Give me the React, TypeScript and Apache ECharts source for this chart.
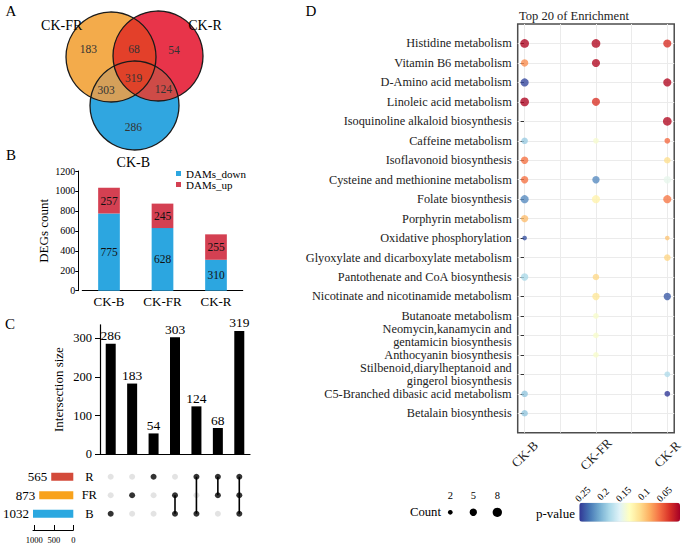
import React, { useEffect, useRef } from "react";
import * as echarts from "echarts";

const FONT = "'Liberation Serif', 'Times New Roman', serif";

// ---------------- Panel A / C data ----------------
const upsetRows = ["B", "FR", "R"]; // bottom -> top
const intersectionMembers = [["B"], ["FR"], ["R"], ["FR", "B"], ["R", "B"], ["R", "FR"], ["R", "FR", "B"]];
const intersectionSizes = [286, 183, 54, 303, 124, 68, 319];
const setDisplayNames: Record<string, string> = { B: "CK-B", FR: "CK-FR", R: "CK-R" };

// ---------------- Panel B data ----------------
const groups = ["CK-B", "CK-FR", "CK-R"];
const damsDown = [775, 628, 310];
const damsUp = [257, 245, 255];

// ---------------- Panel D data ----------------
const samples = ["CK-B", "CK-FR", "CK-R"];
const pathways = [
  "Histidine metabolism",
  "Vitamin B6 metabolism",
  "D-Amino acid metabolism",
  "Linoleic acid metabolism",
  "Isoquinoline alkaloid biosynthesis",
  "Caffeine metabolism",
  "Isoflavonoid biosynthesis",
  "Cysteine and methionine metabolism",
  "Folate biosynthesis",
  "Porphyrin metabolism",
  "Oxidative phosphorylation",
  "Glyoxylate and dicarboxylate metabolism",
  "Pantothenate and CoA biosynthesis",
  "Nicotinate and nicotinamide metabolism",
  "Butanoate metabolism",
  "Neomycin,kanamycin and\ngentamicin biosynthesis",
  "Anthocyanin biosynthesis",
  "Stilbenoid,diarylheptanoid and\ngingerol biosynthesis",
  "C5-Branched dibasic acid metabolism",
  "Betalain biosynthesis",
];
const countB = [7, 5, 6, 7, null, 4, 5, 5, 6, 5, 2, null, 5, null, null, null, null, null, 4, 4];
const pB = [0.016, 0.073, 0.25, 0.016, null, 0.191, 0.063, 0.063, 0.223, 0.093, 0.246, null, 0.184, null, null, null, null, null, 0.194, 0.194];
const countFR = [7, 6, null, 6, null, 3, null, 5, 6, null, null, null, 4, 5, 3, 3, 3, null, null, null];
const pFR = [0.018, 0.018, null, 0.038, null, 0.142, null, 0.223, 0.125, null, null, null, 0.107, 0.115, 0.14, 0.14, 0.14, null, null, null];
const countR = [6, null, 6, null, 7, 3, 4, 5, 6, null, 2, 4, null, 5, null, null, null, 3, 3, null];
const pR = [0.036, null, 0.018, null, 0.018, 0.06, 0.11, 0.154, 0.065, null, 0.097, 0.105, null, 0.243, null, null, null, 0.181, 0.256, null];
const countLegend = [2, 5, 8];
const pTicks = [0.25, 0.2, 0.15, 0.1, 0.05];
const P_MIN = 0.011;
const P_MAX = 0.258;

// ---------------- Styling / layout ----------------
const RdYlBu = ["#a50026", "#d73027", "#f46d43", "#fdae61", "#fee090", "#ffffbf", "#e0f3f8", "#abd9e9", "#74add1", "#4575b4", "#313695"];
const sizeOf = (c: number) => 3.3 * Math.sqrt(c);
const setColors: Record<string, string> = { B: "#2BA8E0", FR: "#F8A21C", R: "#D34A3A" };

const vennLayout = [
  { key: "FR", cx: 111, cy: 57, r: 45, color: "#F3AB4B", lx: 61.7, ly: 25 },
  { key: "R", cx: 158, cy: 56, r: 45, color: "#E8344A", lx: 205, ly: 25 },
  { key: "B", cx: 134.5, cy: 105.5, r: 44.5, color: "#30A6E0", lx: 133.3, ly: 162 },
];
const overlapColors: Record<string, string> = {
  "FR|R": "#E3402A",
  "B|FR": "#D5A05A",
  "B|R": "#CE4B47",
  "B|FR|R": "#DF4229",
};
const vennLabelPos: Record<string, [number, number]> = {
  B: [133.3, 126.7],
  FR: [88.3, 49.3],
  R: [174, 50],
  "B|FR": [106, 90],
  "B|R": [163.3, 89.3],
  "FR|R": [134, 49.3],
  "B|FR|R": [133.5, 78.3],
};

function txt(text: string, x: number, y: number, size: number, extra: any = {}) {
  const align = extra.align || "center";
  return {
    type: "text",
    x,
    y,
    z: 30,
    rotation: extra.rotation || 0,
    style: {
      text,
      font: `${size}px ${FONT}`,
      fontSize: size,
      fontFamily: FONT,
      fill: extra.fill || "#000",
      align,
      textAlign: align,
      verticalAlign: "middle",
      textVerticalAlign: "middle",
    },
  };
}

function regionPolygon(cs: { cx: number; cy: number; r: number }[]) {
  const pts: number[][] = [];
  cs.forEach((c, i) => {
    const N = 720;
    for (let k = 0; k < N; k++) {
      const a = (k / N) * Math.PI * 2;
      const x = c.cx + c.r * Math.cos(a);
      const y = c.cy + c.r * Math.sin(a);
      const ok = cs.every((o, j) => j === i || (x - o.cx) ** 2 + (y - o.cy) ** 2 <= o.r * o.r + 1e-6);
      if (ok) pts.push([x, y]);
    }
  });
  const mx = pts.reduce((s, p) => s + p[0], 0) / pts.length;
  const my = pts.reduce((s, p) => s + p[1], 0) / pts.length;
  pts.sort((a, b) => Math.atan2(a[1] - my, a[0] - mx) - Math.atan2(b[1] - my, b[0] - mx));
  return pts;
}

function buildGraphics() {
  const els: any[] = [];
  vennLayout.forEach((c) =>
    els.push({ type: "circle", z: 10, shape: { cx: c.cx, cy: c.cy, r: c.r }, style: { fill: c.color } })
  );
  Object.keys(overlapColors).forEach((key) => {
    const cs = key.split("|").map((k) => vennLayout.find((c) => c.key === k)!);
    els.push({
      type: "polygon",
      z: cs.length === 3 ? 12 : 11,
      shape: { points: regionPolygon(cs) },
      style: { fill: overlapColors[key] },
    });
  });
  vennLayout.forEach((c) =>
    els.push({
      type: "circle",
      z: 13,
      shape: { cx: c.cx, cy: c.cy, r: c.r },
      style: { fill: "none", stroke: "#1a1a1a", lineWidth: 1.3 },
    })
  );
  vennLayout.forEach((c) => els.push(txt(setDisplayNames[c.key], c.lx, c.ly, 14)));
  intersectionMembers.forEach((m, i) => {
    const key = [...m].sort().join("|");
    const p = vennLabelPos[key];
    els.push(txt(String(intersectionSizes[i]), p[0], p[1], 11.5, { fill: "#333" }));
  });

  els.push(txt("A", 11, 11, 15));
  els.push(txt("B", 11, 155, 15));
  els.push(txt("C", 10, 324, 15));
  els.push(txt("D", 311, 11, 15));

  els.push(txt("Top 20 of Enrichment", 519, 16, 12.5, { align: "left", fill: "#222" }));

  els.push(txt("Count", 441, 512.3, 12.7, { align: "right" }));
  const cx = [450.3, 473.3, 497.3];
  countLegend.forEach((c, i) => {
    els.push({ type: "circle", z: 30, shape: { cx: cx[i], cy: 512.3, r: sizeOf(c) / 2 }, style: { fill: "#000" } });
    els.push(txt(String(c), cx[i], 495.5, 10.5));
  });

  els.push(txt("p-value", 575, 513.5, 13, { align: "right" }));
  const barLeft = 579.3;
  const barLen = 100.7;
  pTicks.forEach((v) => {
    const x = barLeft + ((P_MAX - v) / (P_MAX - P_MIN)) * barLen;
    els.push(txt(String(v), x, 494, 9.8, { rotation: Math.PI / 4 }));
  });
  return els;
}

function buildOption() {
  const setSize = (r: string) =>
    intersectionMembers.reduce((s, m, i) => (m.includes(r) ? s + intersectionSizes[i] : s), 0);

  const colIdx = intersectionSizes.map((_, i) => String(i));

  const greyCells: number[][] = [];
  const blackCells: number[][] = [];
  intersectionMembers.forEach((m, i) => {
    upsetRows.forEach((r, j) => {
      if (m.includes(r)) blackCells.push([i, j]);
      else greyCells.push([i, j]);
    });
  });
  const connectorSeries = intersectionMembers
    .map((m, i) => {
      if (m.length < 2) return null;
      const rows = m.map((r) => upsetRows.indexOf(r));
      return {
        type: "line",
        xAxisIndex: 3,
        yAxisIndex: 3,
        data: [
          [i, Math.min(...rows)],
          [i, Math.max(...rows)],
        ],
        symbol: "none",
        lineStyle: { color: "#000", width: 1.6 },
        z: 3,
        silent: true,
      };
    })
    .filter(Boolean);

  const bubbles: any[] = [];
  const cols = [
    [countB, pB],
    [countFR, pFR],
    [countR, pR],
  ];
  cols.forEach(([cnt, pv], s) => {
    (cnt as (number | null)[]).forEach((c, i) => {
      if (c == null) return;
      bubbles.push([s, i, c, (pv as (number | null)[])[i], pathways[i]]);
    });
  });

  const rowIdx = pathways.map((_, i) => i);
  const plain = (v: number) => String(v);

  const series: any[] = [
    {
      name: "DAMs_down",
      type: "bar",
      xAxisIndex: 0,
      yAxisIndex: 0,
      stack: "tot",
      data: damsDown,
      barWidth: 21.7,
      itemStyle: { color: "#2CA6E0" },
      label: { show: true, position: "inside", fontSize: 11.5, color: "#111", fontFamily: FONT },
    },
    {
      name: "DAMs_up",
      type: "bar",
      xAxisIndex: 0,
      yAxisIndex: 0,
      stack: "tot",
      data: damsUp,
      barWidth: 21.7,
      itemStyle: { color: "#D44052" },
      label: { show: true, position: "inside", fontSize: 11.5, color: "#111", fontFamily: FONT },
    },
    {
      type: "bar",
      xAxisIndex: 1,
      yAxisIndex: 1,
      data: intersectionSizes,
      barWidth: 10,
      itemStyle: { color: "#000" },
      label: { show: true, position: "top", distance: 1, fontSize: 13.5, color: "#000", fontFamily: FONT },
    },
    {
      type: "bar",
      xAxisIndex: 2,
      yAxisIndex: 2,
      data: upsetRows.map((r) => ({ value: setSize(r), itemStyle: { color: setColors[r] } })),
      barWidth: 8,
      label: { show: true, position: "left", distance: 4, fontSize: 13, color: "#000", fontFamily: FONT },
    },
    {
      type: "scatter",
      xAxisIndex: 3,
      yAxisIndex: 3,
      data: greyCells,
      symbolSize: 6,
      itemStyle: { color: "#dcdcdc" },
      z: 2,
      silent: true,
    },
    ...connectorSeries,
    {
      type: "scatter",
      xAxisIndex: 3,
      yAxisIndex: 3,
      data: blackCells,
      symbolSize: 6,
      itemStyle: { color: "#000" },
      z: 4,
      silent: true,
    },
    {
      type: "line",
      xAxisIndex: 4,
      yAxisIndex: 4,
      data: [],
      z: 1,
      silent: true,
      markLine: {
        silent: true,
        symbol: ["none", "none"],
        label: { show: false },
        lineStyle: { color: "#ebebeb", type: "solid", width: 1 },
        data: [0, 0.5, 1, 1.5, 2].map((v) => ({ xAxis: v })),
      },
    },
  ];
  const bubbleIndex = series.length;
  series.push({
    type: "scatter",
    xAxisIndex: 4,
    yAxisIndex: 4,
    data: bubbles,
    symbolSize: (v: any) => sizeOf(v[2]),
    z: 5,
  });

  const black = { color: "#000" };

  return {
    animation: false,
    backgroundColor: "#fff",
    textStyle: { fontFamily: FONT },
    legend: {
      data: ["DAMs_down", "DAMs_up"],
      orient: "vertical",
      left: 176,
      top: 168,
      padding: 0,
      itemWidth: 5,
      itemHeight: 5,
      itemGap: 0,
      icon: "rect",
      textStyle: { fontSize: 11, lineHeight: 10, color: "#000", fontFamily: FONT },
    },
    grid: [
      { left: 82.25, top: 171, width: 160.5, height: 119.7 },
      { left: 100, top: 324.8, width: 150, height: 129.5 },
      { left: 33, top: 467.5, width: 40.3, height: 55.5 },
      { left: 100, top: 467.5, width: 150, height: 55.5 },
      {
        left: 517.7,
        top: 24,
        width: 160.6,
        height: 408.7,
        show: true,
        borderColor: "#4d4d4d",
        borderWidth: 1.5,
        backgroundColor: "rgba(0,0,0,0)",
      },
    ],
    xAxis: [
      {
        gridIndex: 0,
        type: "category",
        data: groups,
        axisLine: { lineStyle: black },
        axisTick: { show: false },
        axisLabel: { color: "#000", fontSize: 13, margin: 4 },
      },
      {
        gridIndex: 1,
        type: "category",
        data: colIdx,
        axisLine: { lineStyle: { color: "#000", width: 1.2 } },
        axisTick: { show: false },
        axisLabel: { show: false },
      },
      {
        gridIndex: 2,
        type: "value",
        inverse: true,
        min: 0,
        max: 1032,
        position: "bottom",
        offset: 7,
        axisLine: { show: true, lineStyle: black },
        axisTick: { show: true, inside: true, length: 5, lineStyle: black, customValues: [0, 500, 1000] },
        axisLabel: { fontSize: 8.5, margin: 5, color: "#000", customValues: [0, 500, 1000], formatter: plain },
        splitLine: { show: false },
      },
      {
        gridIndex: 3,
        type: "category",
        data: colIdx,
        show: false,
      },
      {
        gridIndex: 4,
        type: "value",
        min: -0.097,
        max: 2.097,
        axisLine: { show: false },
        axisTick: { show: true, length: 4, lineStyle: { color: "#333" }, customValues: [0, 1, 2] },
        axisLabel: {
          customValues: [0, 1, 2],
          rotate: 45,
          align: "center",
          verticalAlign: "middle",
          margin: 21.5,
          fontSize: 13,
          color: "#222",
          formatter: (v: number) => {
            const i = Math.round(v);
            return Math.abs(v - i) < 1e-6 ? samples[i] ?? "" : "";
          },
        },
        splitLine: { show: false },
      },
    ],
    yAxis: [
      {
        gridIndex: 0,
        type: "value",
        min: 0,
        max: 1200,
        interval: 200,
        offset: 4,
        axisLine: { show: true, lineStyle: black },
        axisTick: { show: true, length: 3, lineStyle: black },
        axisLabel: { fontSize: 10, margin: 3, color: "#000", formatter: plain },
        splitLine: { show: false },
        name: "DEGs count",
        nameLocation: "middle",
        nameGap: 28.5,
        nameTextStyle: { fontSize: 13, color: "#000" },
      },
      {
        gridIndex: 1,
        type: "value",
        min: 0,
        max: 335,
        interval: 100,
        axisLine: { show: true, lineStyle: { color: "#000", width: 1.2 } },
        axisTick: { show: true, length: 5, lineStyle: black },
        axisLabel: { fontSize: 12.5, margin: 8, color: "#000", showMaxLabel: false, formatter: plain },
        splitLine: { show: false },
        name: "Intersection size",
        nameLocation: "middle",
        nameGap: 35.5,
        nameTextStyle: { fontSize: 13, color: "#000" },
      },
      {
        gridIndex: 2,
        type: "category",
        data: upsetRows,
        position: "right",
        axisLine: { show: false },
        axisTick: { show: false },
        axisLabel: { fontSize: 12.5, margin: 16, color: "#000", align: "center" },
      },
      {
        gridIndex: 3,
        type: "category",
        data: upsetRows,
        show: false,
      },
      {
        gridIndex: 4,
        type: "value",
        inverse: true,
        min: -1,
        max: 20,
        interval: 1,
        axisLine: { show: false },
        axisTick: { show: true, length: 4, lineStyle: { color: "#333" }, customValues: rowIdx },
        axisLabel: {
          customValues: rowIdx,
          fontSize: 12.3,
          color: "#222",
          margin: 6,
          lineHeight: 12.5,
          formatter: (v: number) => {
            const i = Math.round(v);
            return i >= 0 && i < pathways.length ? pathways[i] : "";
          },
        },
        splitLine: { show: true, lineStyle: { color: "#ebebeb", width: 1 } },
      },
    ],
    visualMap: {
      type: "continuous",
      min: P_MIN,
      max: P_MAX,
      dimension: 3,
      seriesIndex: bubbleIndex,
      orient: "horizontal",
      inverse: true,
      left: 579.3,
      top: 502.7,
      itemWidth: 19,
      itemHeight: 100.7,
      padding: 0,
      calculable: false,
      hoverLink: false,
      text: null,
      showLabel: false,
      inRange: { color: RdYlBu },
    },
    graphic: buildGraphics(),
    series,
  };
}

export default function App() {
  const ref = useRef<HTMLDivElement>(null);
  useEffect(() => {
    if (!ref.current) return;
    const chart = echarts.init(ref.current, null, { renderer: "svg" });
    chart.setOption(buildOption() as any);
    return () => chart.dispose();
  }, []);
  return (
    <div
      ref={ref}
      style={{ position: "absolute", left: 0, top: 0, width: 685, height: 544, background: "#fff" }}
    />
  );
}
